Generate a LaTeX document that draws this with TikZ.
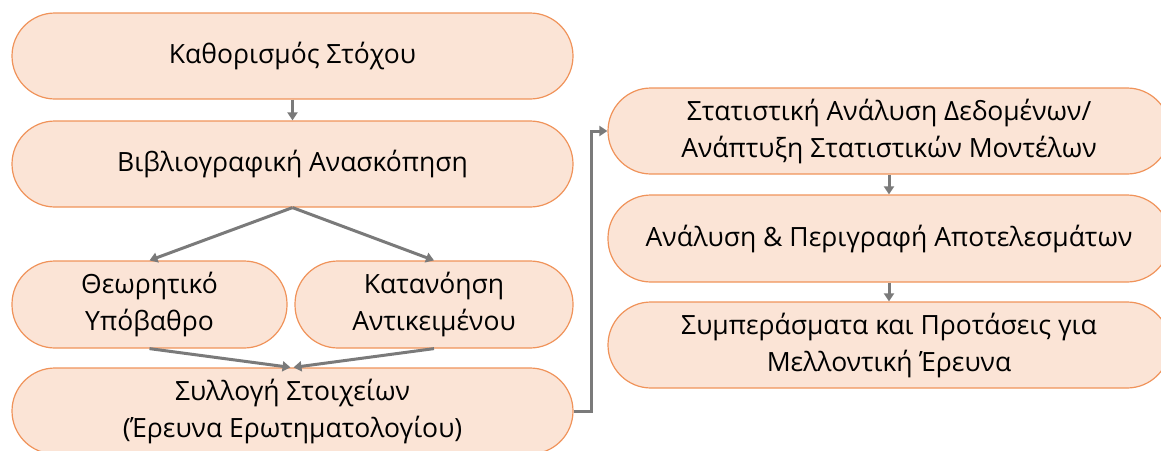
\documentclass[tikz,border=0pt]{standalone}
\usepackage{fontspec}
\setmainfont{Open Sans}
\usetikzlibrary{arrows.meta}
\definecolor{boxfill}{HTML}{FBE4D6}
\definecolor{boxline}{HTML}{F0935A}
\definecolor{arrgray}{HTML}{7A7A7A}
\tikzset{
  stadium/.style={draw=boxline, fill=boxfill, line width=1.2pt, rounded corners=43pt,
    minimum height=86pt, inner sep=0pt, align=center,
    font=\fontsize{26.5}{37}\selectfont, text=black},
  wide/.style={stadium, minimum width=561pt},
  arr/.style={draw=arrgray, line width=3pt, -{Triangle[length=8pt,width=10pt]}},
}
\begin{document}
\begin{tikzpicture}[x=1pt,y=-1pt]
\useasboundingbox (0,0) rectangle (1161,450);
\clip (0,0) rectangle (1161,450);
\node[wide] (goal) at (292.5,56) {Καθορισμός Στόχου};
\node[wide] (lit) at (292.5,164) {Βιβλιογραφική Ανασκόπηση};
\node[stadium, minimum width=275pt, minimum height=87pt] (theo) at (149.5,304.5) {Θεωρητικό\\Υπόβαθρο};
\node[stadium, minimum width=278pt, minimum height=87pt] (obj) at (434,304.5) {Κατανόηση\\Αντικειμένου};
\node[wide] (coll) at (292.5,411) {Συλλογή Στοιχείων\\(Έρευνα Ερωτηματολογίου)};
\node[stadium, minimum width=562pt] (stat) at (889,131) {Στατιστική Ανάλυση Δεδομένων/\\Ανάπτυξη Στατιστικών Μοντέλων};
\node[stadium, minimum width=562pt, minimum height=87pt] (res) at (889,238.5) {Ανάλυση \& Περιγραφή Αποτελεσμάτων};
\node[stadium, minimum width=562pt] (conc) at (889,345) {Συμπεράσματα και Προτάσεις για\\Μελλοντική Έρευνα};
\coordinate (turnA) at (591,411);
\coordinate (turnB) at (591,131);
\draw[arr] (goal.south) -- (lit.north);
\draw[arr] (lit.south) -- (theo.north);
\draw[arr] (lit.south) -- (obj.north);
\draw[arr] (theo.south) -- ([xshift=-2pt]coll.north);
\draw[arr] (obj.south) -- ([xshift=1pt]coll.north);
\draw[arr] (coll.east) -- (turnA) -- (turnB) -- (stat.west);
\draw[arr] (stat.south) -- (res.north);
\draw[arr] (res.south) -- (conc.north);
\end{tikzpicture}
\end{document}
